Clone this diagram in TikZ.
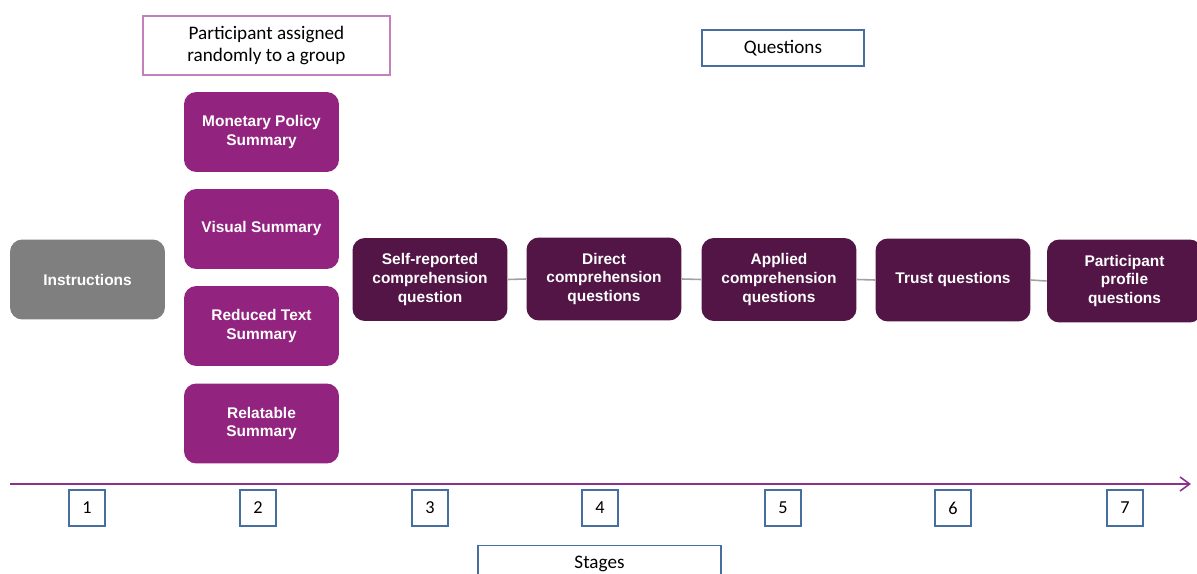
\documentclass[tikz,border=0pt]{standalone}
\usepackage{fontspec}
\setmainfont{Carlito}
\newfontfamily\boxfont{Liberation Sans}
\usetikzlibrary{arrows.meta}
\definecolor{stepgray}{RGB}{127,127,127}
\definecolor{sumpurple}{RGB}{146,35,126}
\definecolor{qpurple}{RGB}{82,21,70}
\definecolor{pinkline}{RGB}{196,128,188}
\definecolor{blueline}{RGB}{70,110,160}
\definecolor{axispurple}{RGB}{140,50,140}
\definecolor{linkgray}{RGB}{160,160,160}
\tikzset{
  filledbox/.style={rounded corners=7pt, minimum width=3.1cm, minimum height=1.6cm,
    text=white, align=center, font=\boxfont\bfseries\fontsize{8.8}{10.8}\selectfont, inner sep=2pt},
  instrbox/.style={filledbox, fill=stepgray},
  sumbox/.style={filledbox, fill=sumpurple},
  qbox/.style={filledbox, fill=qpurple, minimum height=1.66cm},
  labelbox/.style={draw, line width=0.8pt, align=center, font=\fontsize{10.9}{13}\selectfont},
  stagenum/.style={draw=blueline, line width=0.8pt, minimum size=0.72cm, inner sep=0pt,
    font=\fontsize{10.4}{12}\selectfont},
  link/.style={draw=linkgray, line width=0.9pt}
}
\begin{document}
\begin{tikzpicture}[x=0.02cm,y=-0.02cm]
\useasboundingbox (0,0) rectangle (1197,574);
\clip (0,0) rectangle (1197,574);

%Header boxes
\node [labelbox, draw=pinkline, minimum width=4.94cm, minimum height=1.18cm] (group) at (266.5,45.5) {Participant assigned\\randomly to a group};
\node [labelbox, draw=blueline, minimum width=3.24cm, minimum height=0.72cm] (questions) at (783,48) {Questions};

%Stage 1 and 2
\node [instrbox] (instr) at (87.5,279.5) {Instructions};
\node [sumbox] (monetary) at (261.5,132) {Monetary Policy\\Summary};
\node [sumbox] (visual) at (261.5,229) {Visual Summary};
\node [sumbox] (reduced) at (261.5,326) {Reduced Text\\Summary};
\node [sumbox] (relatable) at (261.5,423.5) {Relatable\\Summary};

%Question stages
\node [qbox] (selfrep) at (430,279.5) {Self-reported\\comprehension\\question};
\node [qbox] (direct) at (604,279) {Direct\\comprehension\\questions};
\node [qbox] (applied) at (779,279.5) {Applied\\comprehension\\questions};
\node [qbox] (trust) at (953,280) {Trust questions};
\node [qbox] (profile) at (1124.5,281) {Participant\\profile\\questions};
\draw [link] (selfrep.east) to (direct.west);
\draw [link] (direct.east) to (applied.west);
\draw [link] (applied.east) to (trust.west);
\draw [link] (trust.east) to (profile.west);

%Time axis
\coordinate (axisstart) at (10,484);
\coordinate (axisend) at (1191,484);
\draw [axispurple, line width=0.9pt, -{Straight Barb[length=5.5pt,width=8pt,line width=0.9pt]}] (axisstart) to (axisend);

\node [stagenum] (s1) at (87,508) {1};
\node [stagenum] (s2) at (258,508) {2};
\node [stagenum] (s3) at (430,508) {3};
\node [stagenum] (s4) at (600,508) {4};
\node [stagenum] (s5) at (783,508) {5};
\node [stagenum] (s6) at (953,508) {6};
\node [stagenum] (s7) at (1125,508) {7};

\node [labelbox, draw=blueline, minimum width=4.86cm, minimum height=0.74cm, anchor=north] (stages) at (599.5,545) {Stages};
\end{tikzpicture}
\end{document}
